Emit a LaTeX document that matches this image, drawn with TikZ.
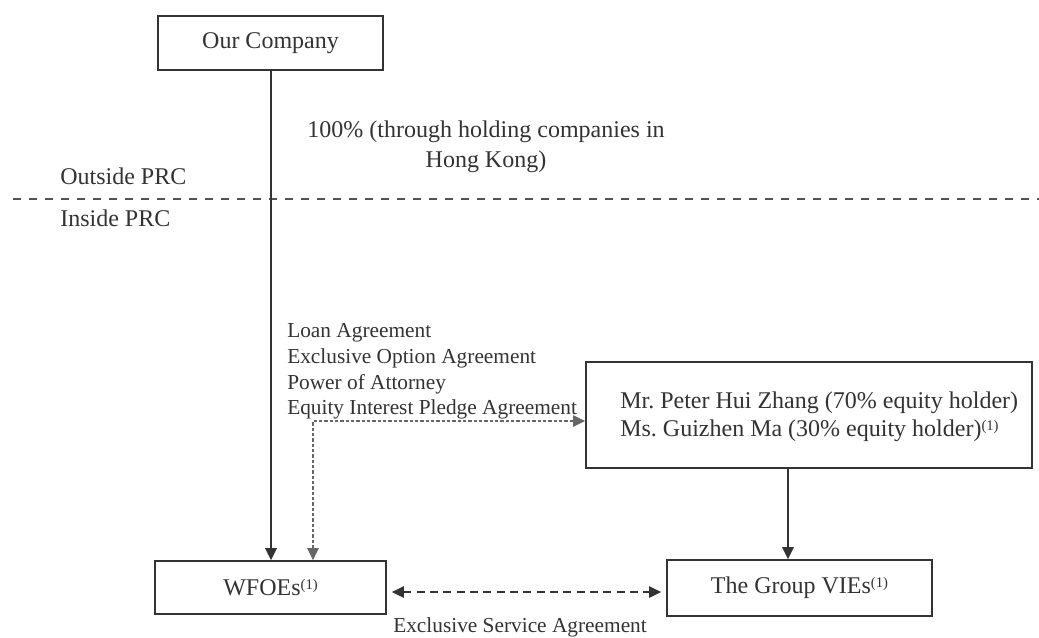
\documentclass[tikz,border=0pt]{standalone}
\usepackage{fontspec}
\setmainfont{Liberation Serif}
\usetikzlibrary{arrows.meta}
\definecolor{ink}{gray}{0.2}
\newcommand{\noteone}{\raisebox{0.55ex}{\fontsize{11}{11}\selectfont(1)}}
\frenchspacing
\begin{document}
\begin{tikzpicture}[x=0.75pt,y=-0.75pt,
  big/.style={font=\fontsize{18}{20.25}\selectfont, text=ink},
  small/.style={font=\fontsize{16}{19.3}\selectfont, text=ink},
  box/.style={draw=ink, line width=1.3pt, big, inner sep=0pt},
  lbl/.style={inner sep=0pt},
  tip/.style={-{Triangle[length=9pt,width=8.5pt]}},
  solidarrow/.style={draw=ink, line width=1.5pt, tip},
  dotline/.style={draw=ink!75, line width=0.8pt, dash pattern=on 2.5pt off 1.5pt,
     {Triangle[length=9pt,width=8.5pt]}-{Triangle[length=9pt,width=8.5pt]}},
  dashline/.style={draw=ink, line width=1.3pt, dash pattern=on 6pt off 4pt,
     {Triangle[length=9pt,width=8.5pt]}-{Triangle[length=9pt,width=8.5pt]}},
  regionline/.style={draw=ink!85, line width=1.3pt, dash pattern=on 6pt off 6pt}]
\useasboundingbox (0,0) rectangle (1039,637);
\fill[white] (0,0) rectangle (1039,637);

% boxes
\node[box, minimum width=168.75pt, minimum height=40.5pt] (oc) at (270.5,43) {Our Company};
\node[box, minimum width=173.25pt, minimum height=39.75pt] (wfoe) at (270.5,587.5) {WFOEs\noteone};
\node[box, minimum width=198.75pt, minimum height=42pt] (vie) at (799.5,588) {The Group VIEs\noteone};
\node[box, minimum width=334.5pt, minimum height=79.5pt] (pe) at (809,415) {};
\node[lbl, big, anchor=west, align=left] (pet) at (620,416.5)
  {Mr. Peter Hui Zhang (70\% equity holder)\\[1pt]Ms. Guizhen Ma (30\% equity holder)\noteone};

% region separator
\coordinate (rl) at (13,199);
\coordinate (rr) at (1039,199);
\draw[regionline] (rl) -- (rr);
\node[lbl, big, anchor=west] (out) at (60,176) {Outside PRC};
\node[lbl, big, anchor=west] (in) at (60,218) {Inside PRC};

% ownership
\coordinate (v) at (271,0);
\draw[solidarrow] (oc.south -| v) -- (wfoe.north -| v);
\node[lbl, big, align=center, font=\fontsize{18}{22.5}\selectfont] (own) at (486,147)
  {100\% (through holding companies in\\Hong Kong)};

% agreements
\node[lbl, small, anchor=west, align=left] (agr) at (287,371.5)
  {Loan Agreement\\Exclusive Option Agreement\\Power of Attorney\\Equity Interest Pledge Agreement};
\coordinate (c) at (313,421);
\draw[dotline] (wfoe.north -| c) |- (pe.west |- c);

% equity holders to VIEs
\coordinate (a) at (788,0);
\draw[solidarrow] (pe.south -| a) -- (vie.north -| a);

% exclusive service
\coordinate (s) at (0,592);
\draw[dashline, shorten <=3.75pt, shorten >=3.75pt] (wfoe.east |- s) -- (vie.west |- s);
\node[lbl, small, anchor=west] (esa) at (393,627) {Exclusive Service Agreement};
\end{tikzpicture}
\end{document}
